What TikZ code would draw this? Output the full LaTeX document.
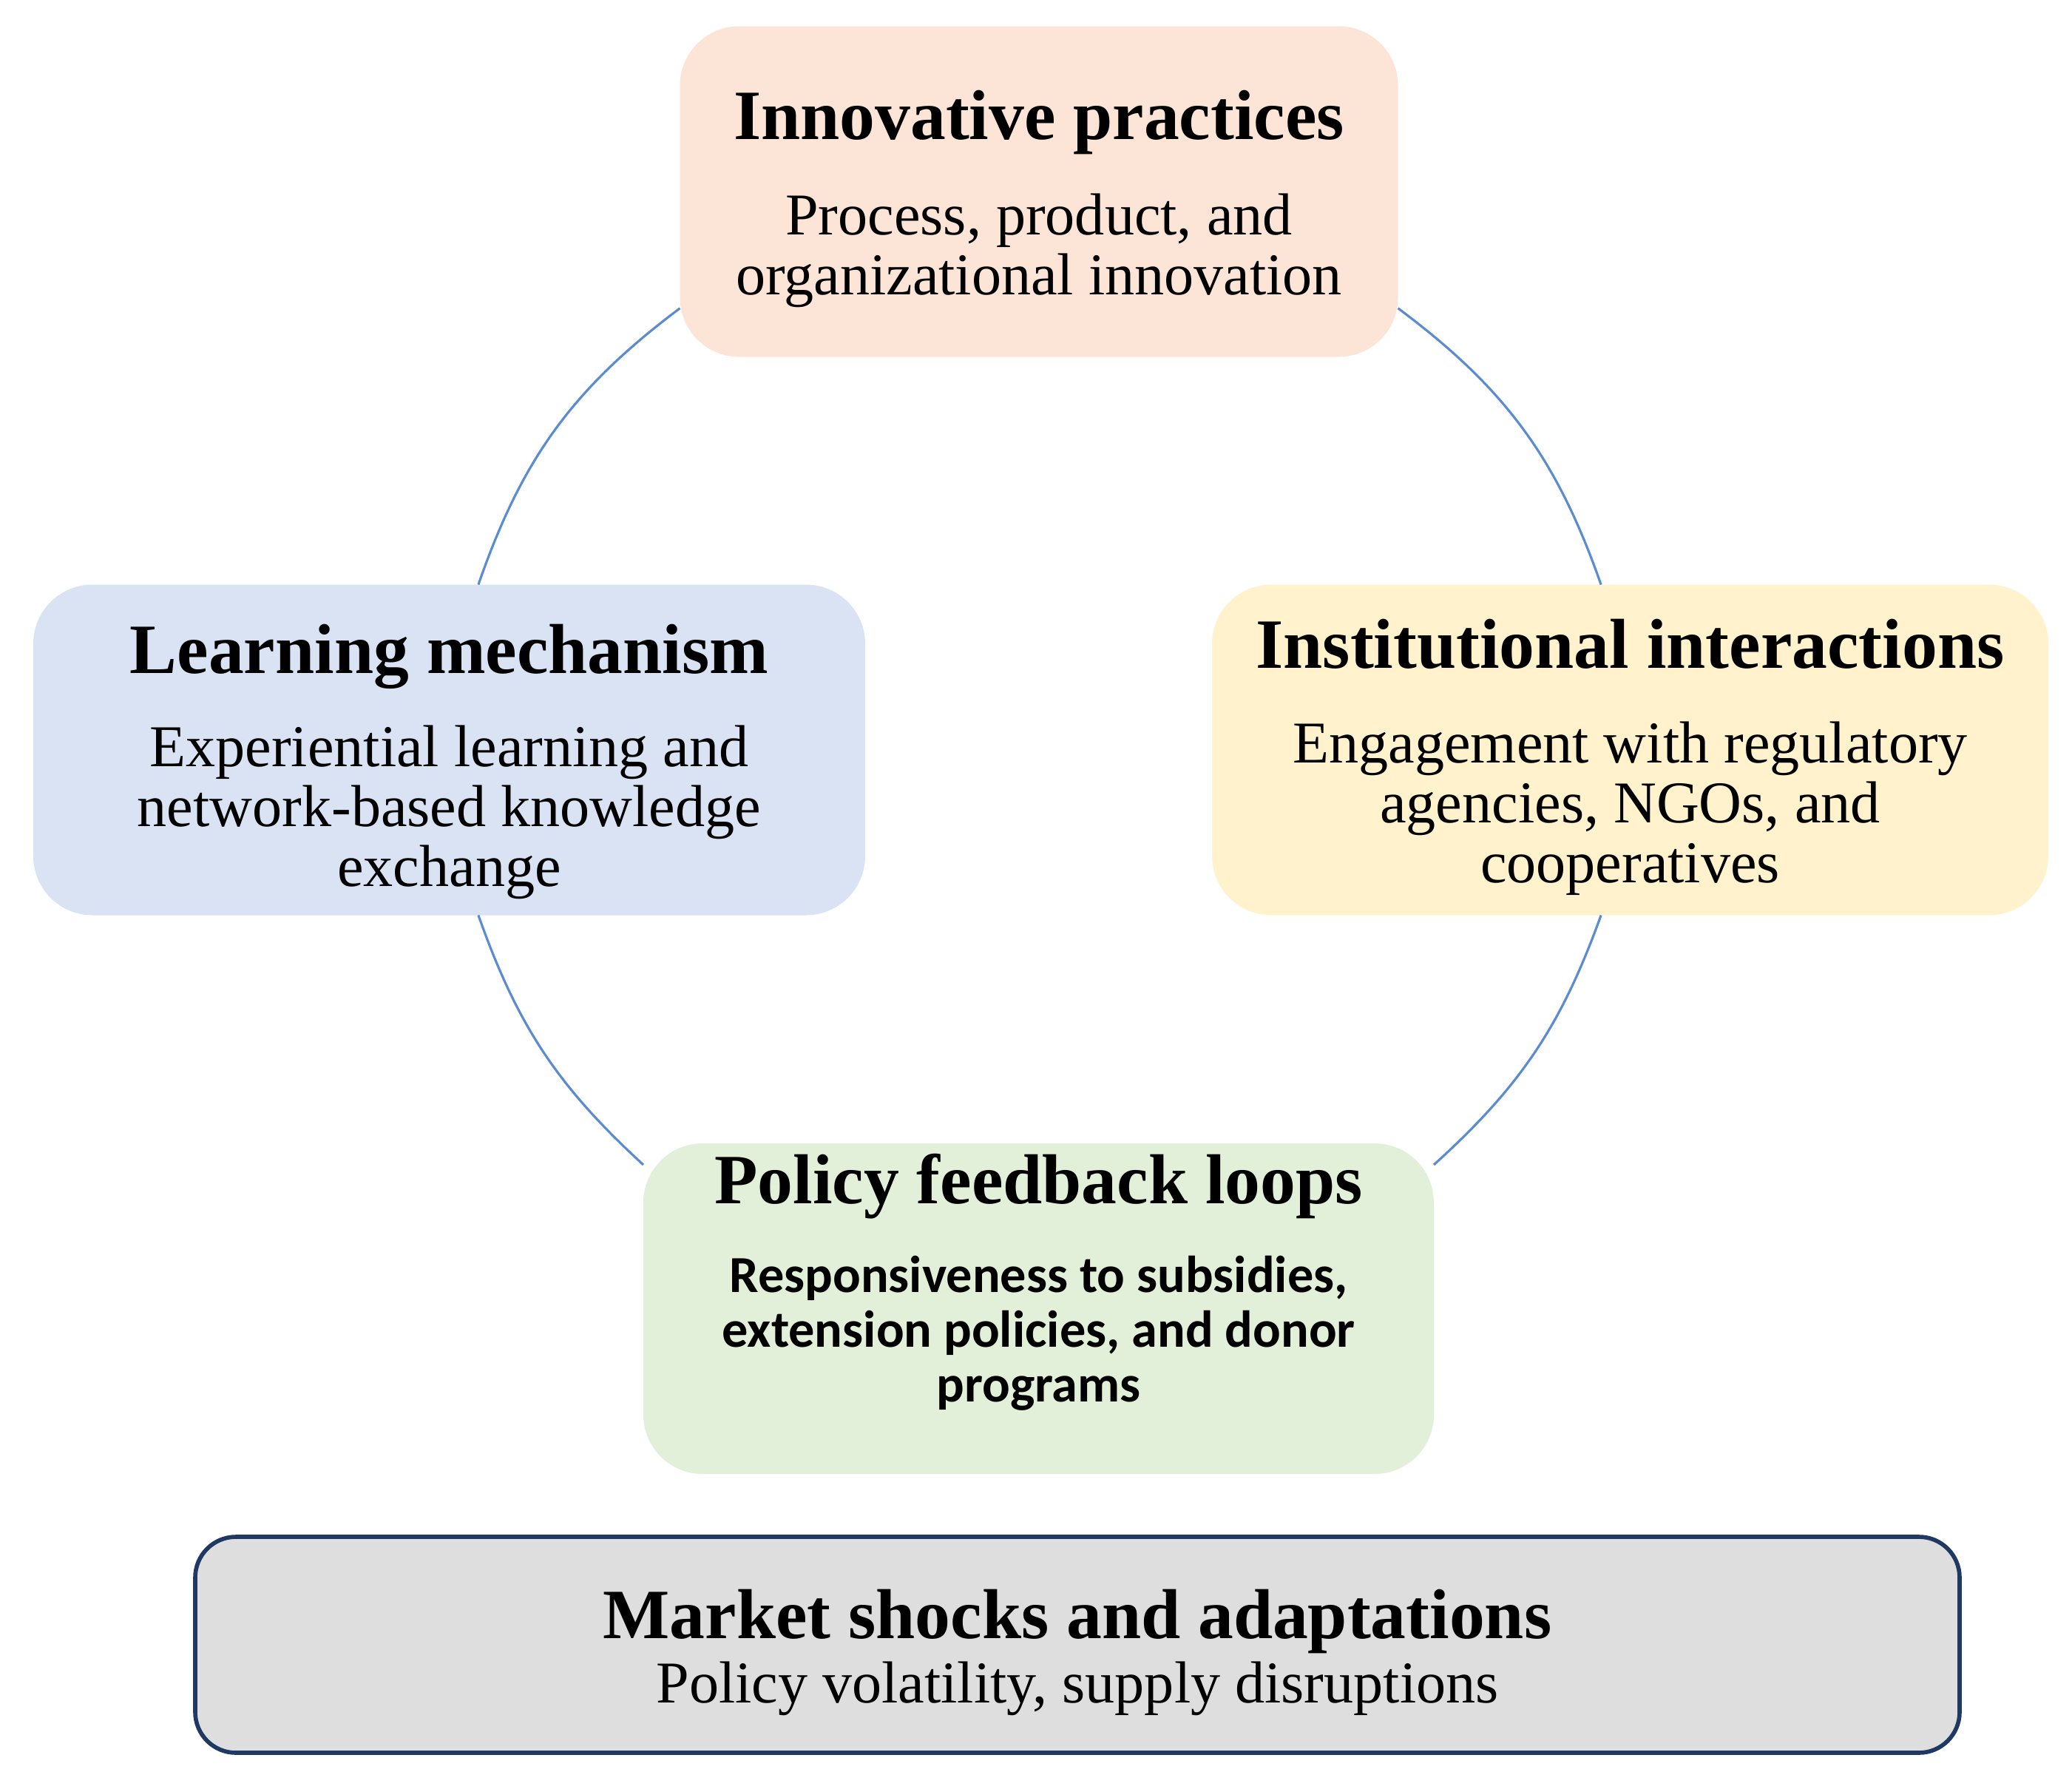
\documentclass[tikz,border=0pt]{standalone}
\usepackage[T1]{fontenc}
\usepackage{fontspec}
\newfontfamily\calfam{Carlito}
\usepackage{tikz}
\usetikzlibrary{positioning}

% Palatino if it is there, Times widths otherwise
\newif\ifhavepal
\IfFileExists{t1ppl.fd}{\IfFileExists{pplb8t.tfm}{\havepaltrue}{}}{}
\ifhavepal
  \newcommand\palfam{\fontencoding{T1}\fontfamily{ppl}\selectfont}
  \newcommand\ttlsize{\fontsize{25.5}{30}\selectfont}
  \newcommand\txtsize{\fontsize{21.5}{23}\selectfont}
\else
  \newfontfamily\palfam{Liberation Serif}
  \newcommand\ttlsize{\fontsize{27.2}{30}\selectfont}
  \newcommand\txtsize{\fontsize{22.8}{23}\selectfont}
\fi

\definecolor{peach}{HTML}{FCE4D6}
\definecolor{paleblue}{HTML}{DAE3F3}
\definecolor{paleyellow}{HTML}{FFF2CC}
\definecolor{palegreen}{HTML}{E2F0D9}
\definecolor{shockgray}{HTML}{DEDEDE}
\definecolor{navy}{HTML}{1F3864}
\definecolor{loopblue}{HTML}{5B8BD0}

\begin{document}
\begin{tikzpicture}[
  every node/.style={inner sep=0pt, outer sep=0pt},
  box/.style  ={rounded corners=0.8cm, minimum height=4.47cm},
  ttl/.style  ={anchor=base, font=\palfam\bfseries\ttlsize},
  txt/.style  ={anchor=base, align=center, font=\palfam\txtsize},
  ctxt/.style ={anchor=base, align=center,
                font=\calfam\bfseries\fontsize{20}{21}\selectfont},
  loop/.style ={loopblue, line width=0.9pt}
]
\useasboundingbox (0,0) rectangle (28.02,-24.18);

%% ---- four stages round the cycle ----------------------------------
\node[box, fill=peach, minimum width=9.71cm]       (ip) at (14.05,-2.59)  {};
\node[box, fill=paleblue, minimum width=11.25cm]   (lm) at (6.075,-10.14) {};
\node[box, fill=paleyellow, minimum width=11.31cm] (ii) at (22.045,-10.14) {};
\node[box, fill=palegreen, minimum width=10.69cm]  (pf) at (14.045,-17.695) {};

\node[ttl] (ipt) at ([yshift=-1.53cm]ip.north) {Innovative practices};
\node[txt] (ipb) at ([yshift=-2.1cm]ipt.base)
     {Process, product, and\\organizational innovation};

\node[ttl] (lmt) at ([yshift=-1.2cm]lm.north) {Learning mechanism};
\node[txt] (lmb) at ([yshift=-2.88cm]lmt.base)
     {Experiential learning and\\network-based knowledge\\exchange};

\node[ttl] (iit) at ([yshift=-1.13cm]ii.north) {Institutional interactions};
\node[txt] (iib) at ([yshift=-2.9cm]iit.base)
     {Engagement with regulatory\\agencies, NGOs, and\\cooperatives};

\node[ttl] (pft) at ([yshift=-0.81cm]pf.north) {Policy feedback loops};
\node[ctxt] (pfb) at ([yshift=-2.68cm]pft.base)
     {Responsiveness to subsidies,\\extension policies, and donor\\programs};

% cycle arcs
\draw[loop] (ip.198) to[bend right=17] (lm.80);
\draw[loop] (ip.342) to[bend left=17]  (ii.100);
\draw[loop] (lm.280) to[bend right=14] (pf.160);
\draw[loop] (ii.260) to[bend left=14]  (pf.20);

%% ---- external pressure --------------------------------------------
\node[draw=navy, line width=1.6pt, fill=shockgray, rounded corners=0.55cm,
      minimum width=23.86cm, minimum height=2.92cm] (ms) at (14.57,-22.24) {};
\node[ttl] (mst) at ([yshift=-1.37cm]ms.north) {Market shocks and adaptations};
\node[txt] (msb) at ([yshift=-0.87cm]mst.base) {Policy volatility, supply disruptions};

\end{tikzpicture}
\end{document}
